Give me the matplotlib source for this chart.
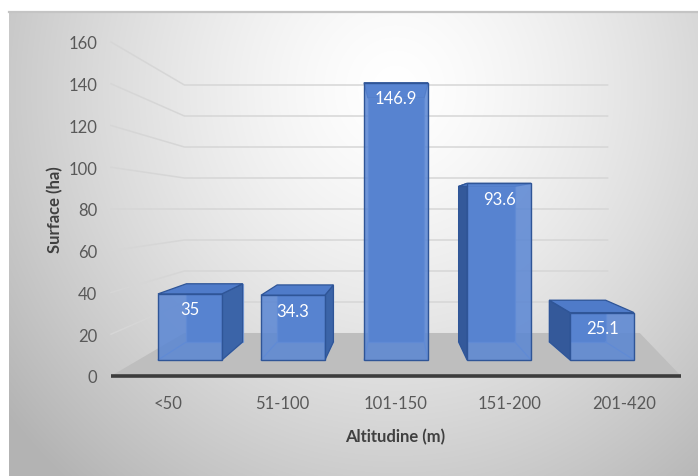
import numpy as np
import matplotlib
matplotlib.use("Agg")
import matplotlib.pyplot as plt
from matplotlib.patches import Polygon

# ---- data ----
categories = ["<50", "51-100", "101-150", "151-200", "201-420"]
surface_ha = [35, 34.3, 146.9, 93.6, 25.1]
value_labels = ["35", "34.3", "146.9", "93.6", "25.1"]
y_ticks = [0, 20, 40, 60, 80, 100, 120, 140, 160]

W, H, DPI = 698, 477, 100
plt.rcParams['font.family'] = ['Lato', 'DejaVu Sans']

fig = plt.figure(figsize=(W / DPI, H / DPI), dpi=DPI)

# ---- chart-area background: soft radial gradient ----
bg = fig.add_axes([0, 0, 1, 1])
bg.set_axis_off()
yy, xx = np.mgrid[0:H, 0:W]
r = np.sqrt(((xx - 395) / 380.0) ** 2 + ((yy - 90) / 400.0) ** 2)
g = 1 - (52 / 255.0) * np.clip(r, 0, 1.3) ** 1.4
img = np.dstack([g, g, g])
img[(xx < 9) | (yy < 12)] = 1.0
bg.imshow(img, extent=(0, W, H, 0), interpolation='bilinear')
bg.plot([9, W], [12.5, 12.5], color='#c4c4c4', lw=1.6)
bg.set_xlim(0, W)
bg.set_ylim(H, 0)

# ---- plot axes: front plane of the 3-D box ----
ax = fig.add_axes([111 / W, (H - 377) / H, 570 / W, 334 / H])
ax.patch.set_alpha(0)
for sp in ax.spines.values():
    sp.set_visible(False)
ax.set_xlim(-0.5, 4.5)
ax.set_ylim(0, 160)

# one-point perspective: depth is expressed as a scale factor toward the vanishing point
VX, VY = 2.0, 80.0
S_FRONT, S_BAR_F, S_BAR_B, S_WALL = 1.0, 0.904, 0.796, 0.7425
HALF_W = 0.31


def proj(x, v, s):
    return (VX + (x - VX) * s, VY + (v - VY) * s)


def poly(points, **kw):
    ax.add_patch(Polygon(points, closed=True, clip_on=False, **kw))


# gridlines on the side wall and back wall
grid_c = '#d6d6d6'
for v in y_ticks[1:]:
    p0, p1 = proj(-0.5, v, S_FRONT), proj(-0.5, v, S_WALL)
    p2 = proj(4.5, v, S_WALL)
    ax.plot([p0[0], p1[0], p2[0]], [p0[1], p1[1], p2[1]],
            color=grid_c, lw=1.1, clip_on=False, zorder=1)

# floor
poly([proj(-0.5, 0, S_FRONT), proj(4.5, 0, S_FRONT),
      proj(4.88, 0, S_WALL), proj(-0.5, 0, S_WALL)],
     facecolor='#bebebe', edgecolor='none', zorder=2)
ax.plot([-0.5, 4.5], [0, 0], color='#3c3c3c', lw=2.6,
        solid_capstyle='butt', clip_on=False, zorder=3)

# columns
front_c = '#5a86d3'
top_c = '#4f7bc9'
side_c = '#3b64a8'
edge_c = '#2f5597'
inner_c = '#86a8e0'

for i, (val, lab) in enumerate(zip(surface_ha, value_labels)):
    xl, xr = i - HALF_W, i + HALF_W
    fbl, fbr = proj(xl, 0, S_BAR_F), proj(xr, 0, S_BAR_F)
    ftl, ftr = proj(xl, val, S_BAR_F), proj(xr, val, S_BAR_F)
    bbl, bbr = proj(xl, 0, S_BAR_B), proj(xr, 0, S_BAR_B)
    btl, btr = proj(xl, val, S_BAR_B), proj(xr, val, S_BAR_B)

    # back face and hidden edges (seen through the translucent front)
    poly([bbl, bbr, btr, btl], facecolor='#4a76c4', edgecolor=inner_c,
         lw=0.9, zorder=4)
    for a, b in [(fbl, bbl), (fbr, bbr)]:
        ax.plot([a[0], b[0]], [a[1], b[1]], color=inner_c, lw=0.9,
                clip_on=False, zorder=4)

    # visible side face
    if i < VX:
        poly([fbr, ftr, btr, bbr], facecolor=side_c, edgecolor=edge_c,
             lw=0.9, zorder=5)
    elif i > VX:
        poly([fbl, ftl, btl, bbl], facecolor='#34599a', edgecolor=edge_c,
             lw=0.9, zorder=5)

    # top face
    poly([ftl, ftr, btr, btl], facecolor=top_c, edgecolor=edge_c,
         lw=0.9, zorder=6)

    # front face
    poly([fbl, fbr, ftr, ftl], facecolor=front_c, edgecolor='none',
         alpha=0.86, zorder=7)
    poly([fbl, fbr, ftr, ftl], facecolor='none', edgecolor=edge_c,
         lw=1.0, zorder=8)

    ax.annotate(lab, xy=((ftl[0] + ftr[0]) / 2, ftl[1]), xytext=(0, -11),
                textcoords='offset points', ha='center', va='center',
                color='white', fontsize=12, zorder=9, annotation_clip=False)

# axes text
ax.set_yticks(y_ticks)
ax.tick_params(axis='y', length=0, pad=10, labelsize=12, labelcolor='#595959')
ax.set_xticks(range(len(categories)), categories)
ax.tick_params(axis='x', length=0, pad=14, labelsize=12, labelcolor='#595959')

ax.set_xlabel('Altitudine (m)', fontsize=12, fontweight='bold', color='#404040')
ax.xaxis.set_label_coords((395 - 111) / 570, (377 - 437) / 334)
ax.xaxis.label.set_va('center')
ax.set_ylabel('Surface (ha)', fontsize=12, fontweight='bold', color='#404040')
ax.yaxis.set_label_coords((55 - 111) / 570, (377 - 210) / 334)
ax.yaxis.label.set_va('center')

fig.savefig('out.png', dpi=DPI)
